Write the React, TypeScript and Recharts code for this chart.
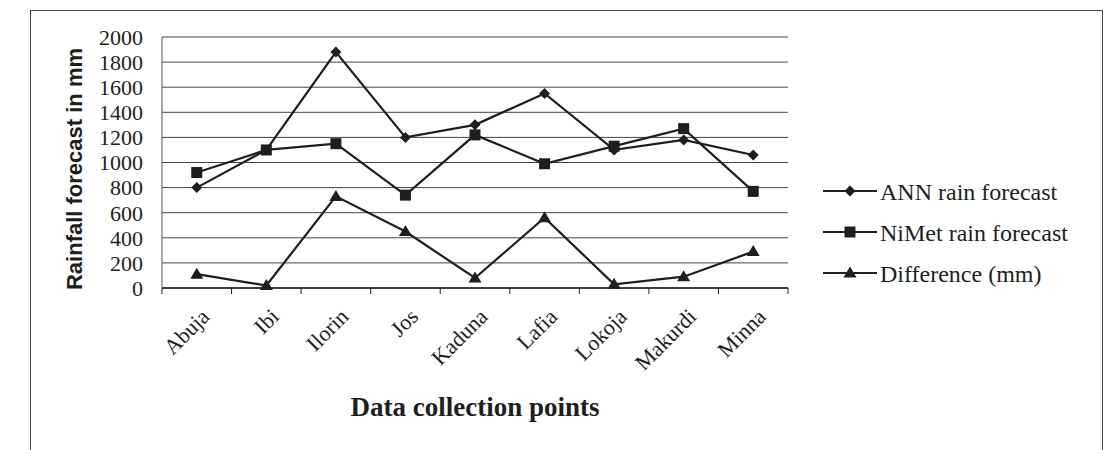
import { LineChart, Line, XAxis, YAxis, CartesianGrid } from 'recharts'

const categories = ['Abuja', 'Ibi', 'Ilorin', 'Jos', 'Kaduna', 'Lafia', 'Lokoja', 'Makurdi', 'Minna']
const annForecast = [800, 1100, 1880, 1200, 1300, 1550, 1100, 1180, 1060]
const nimetForecast = [920, 1100, 1150, 740, 1220, 990, 1130, 1270, 770]
const difference = [110, 20, 730, 450, 80, 560, 30, 90, 290]
const yTicks = [0, 200, 400, 600, 800, 1000, 1200, 1400, 1600, 1800, 2000]

const seriesNames = ['ANN rain forecast', 'NiMet rain forecast', 'Difference (mm)']

const data = categories.map((name, i) => ({
  name,
  ann: annForecast[i],
  nimet: nimetForecast[i],
  diff: difference[i],
}))

const INK = '#1e1e1e'
const SERIF = '"Liberation Serif", "Times New Roman", serif'

const shapePath = (kind: string, cx: number, cy: number) => {
  if (kind === 'diamond') return `M${cx},${cy - 5.5}L${cx + 5.5},${cy}L${cx},${cy + 5.5}L${cx - 5.5},${cy}Z`
  if (kind === 'square') return `M${cx - 5.5},${cy - 5.5}h11v11h-11Z`
  return `M${cx},${cy - 6.5}L${cx + 6.5},${cy + 4.5}L${cx - 6.5},${cy + 4.5}Z`
}

const makeDot = (kind: string) => (props: any) => {
  const { cx, cy, index } = props
  if (cx == null || cy == null) return <g key={`${kind}-${index}`} />
  return <path key={`${kind}-${index}`} d={shapePath(kind, cx, cy)} fill={INK} />
}

// plot is 626px wide, one band per category (Excel-style)
const BAND = 626 / categories.length

function CategoryTick(props: any) {
  const { x, y, payload, index } = props
  return (
    <g>
      <line x1={x - BAND / 2} y1={y - 8} x2={x - BAND / 2} y2={y - 2} stroke={INK} />
      {index === categories.length - 1 && (
        <line x1={x + BAND / 2} y1={y - 8} x2={x + BAND / 2} y2={y - 2} stroke={INK} />
      )}
      <text
        transform={`translate(${x + 14},${y + 22}) rotate(-45)`}
        textAnchor="end"
        fontFamily={SERIF}
        fontSize={22}
        fill={INK}
      >
        {payload.value}
      </text>
    </g>
  )
}

function LegendBox() {
  const kinds = ['diamond', 'square', 'triangle']
  return (
    <svg width={290} height={130}>
      {seriesNames.map((label, i) => {
        const cy = 16 + i * 41
        return (
          <g key={label}>
            <line x1={0} y1={cy} x2={54} y2={cy} stroke={INK} strokeWidth={2} />
            <path d={shapePath(kinds[i], 27, cy)} fill={INK} />
            <text x={57} y={cy + 9} fontFamily={SERIF} fontSize={24} fill={INK}>
              {label}
            </text>
          </g>
        )
      })}
    </svg>
  )
}

export default function App() {
  return (
    <div style={{ position: 'absolute', left: 0, top: 0, width: 1109, height: 450, background: '#fff', overflow: 'hidden' }}>
      <div style={{ position: 'absolute', left: 30, top: 10, width: 1071, height: 460, border: '1px solid #444' }} />
      <div style={{ position: 'absolute', left: 0, top: 0 }}>
        <LineChart width={1109} height={450} data={data} margin={{ top: 37, right: 321, left: 30, bottom: 0 }}>
          <CartesianGrid horizontal vertical={false} stroke="#444" strokeWidth={1} />
          <XAxis
            dataKey="name"
            height={162}
            interval={0}
            tickLine={false}
            padding={{ left: BAND / 2, right: BAND / 2 }}
            tick={<CategoryTick />}
            axisLine={{ stroke: INK, strokeWidth: 1.5 }}
          />
          <YAxis
            width={132}
            domain={[0, 2000]}
            ticks={yTicks}
            interval={0}
            tickLine={false}
            axisLine={{ stroke: '#555' }}
            tick={{ fontFamily: SERIF, fontSize: 22, fill: INK }}
            tickMargin={13}
          />
          <Line dataKey="ann" name={seriesNames[0]} stroke={INK} strokeWidth={2.2} dot={makeDot('diamond')} isAnimationActive={false} />
          <Line dataKey="nimet" name={seriesNames[1]} stroke={INK} strokeWidth={2.2} dot={makeDot('square')} isAnimationActive={false} />
          <Line dataKey="diff" name={seriesNames[2]} stroke={INK} strokeWidth={2.2} dot={makeDot('triangle')} isAnimationActive={false} />
        </LineChart>
      </div>
      <div style={{ position: 'absolute', left: 823, top: 175 }}>
        <LegendBox />
      </div>
      <div
        style={{
          position: 'absolute', left: 75 - 150, top: 169 - 14, width: 300, textAlign: 'center',
          transform: 'rotate(-90deg)', fontFamily: '"Liberation Sans", Arial, sans-serif',
          fontWeight: 'bold', fontSize: 22, lineHeight: '28px', color: INK,
        }}
      >
        Rainfall forecast in mm
      </div>
      <div
        style={{
          position: 'absolute', left: 475 - 200, top: 394, width: 400, textAlign: 'center',
          fontFamily: SERIF, fontWeight: 'bold', fontSize: 27, lineHeight: '27px', color: INK,
        }}
      >
        Data collection points
      </div>
    </div>
  )
}
